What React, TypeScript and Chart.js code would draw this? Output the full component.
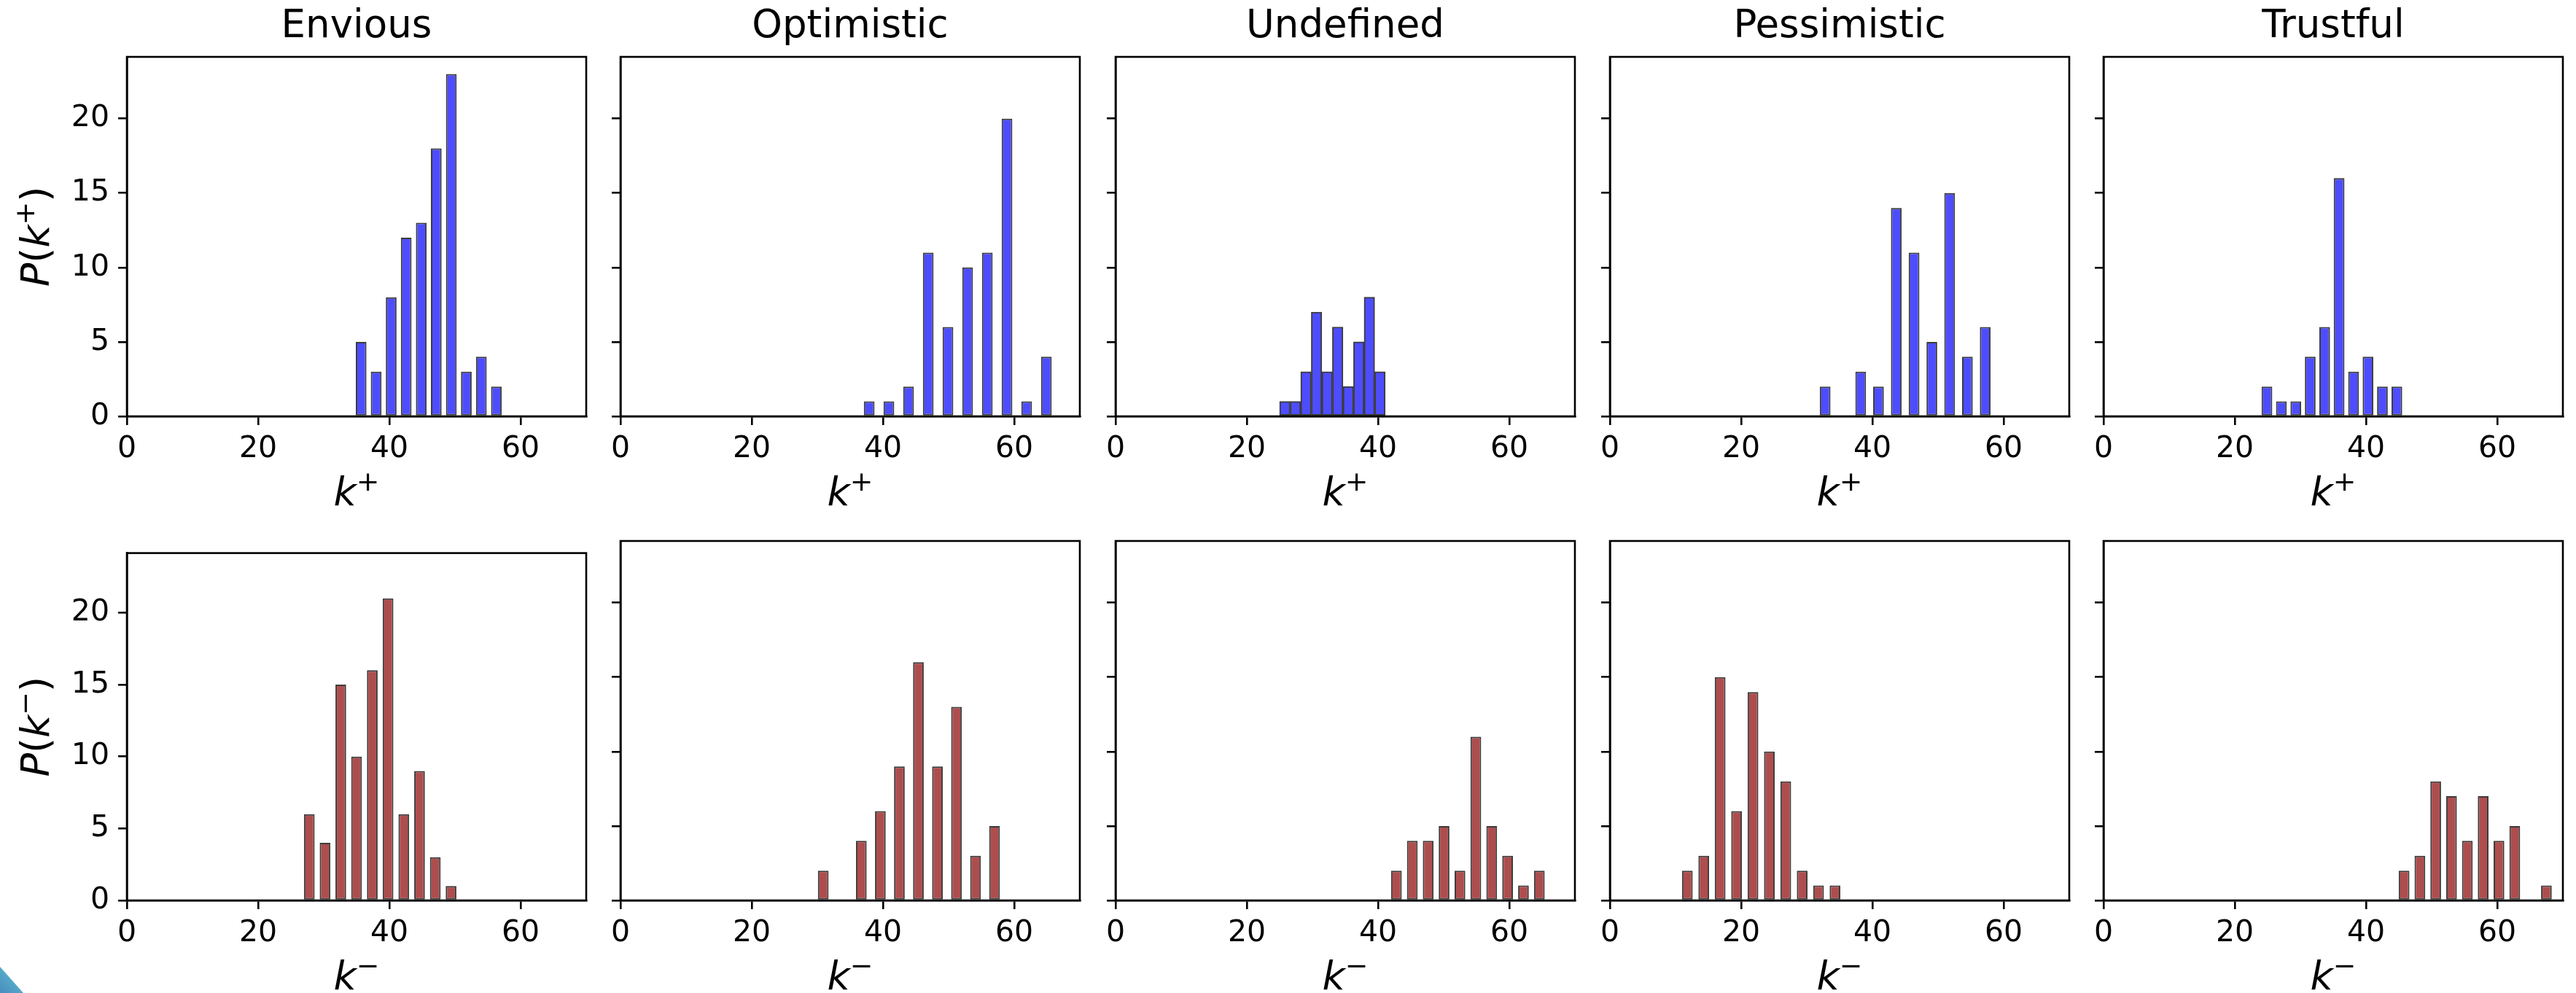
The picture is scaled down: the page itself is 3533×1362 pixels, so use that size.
import React, { useEffect, useRef } from "react";
import { Chart, registerables } from "chart.js";

Chart.register(...registerables);

// ---------- data ----------
const PERSONALITIES = ["Envious", "Optimistic", "Undefined", "Pessimistic", "Trustful"];
const X_TICKS = [0, 20, 40, 60];
const Y_TICKS = [0, 5, 10, 15, 20];
const X_MAX = 70;
const Y_MAX = 24.15;
const BAR_WIDTH = 1.63; // in k units

// out-degree k+ histograms (centre of first bin, bin width, counts)
const K_PLUS_FIRST_BIN = [35.7, 37.9, 25.8, 32.8, 24.9];
const K_PLUS_BIN_WIDTH = [2.29, 3.0, 1.61, 2.71, 2.2];
const ENVIOUS_K_PLUS = [5, 3, 8, 12, 13, 18, 23, 3, 4, 2];
const OPTIMISTIC_K_PLUS = [1, 1, 2, 11, 6, 10, 11, 20, 1, 4];
const UNDEFINED_K_PLUS = [1, 1, 3, 7, 3, 6, 2, 5, 8, 3];
const PESSIMISTIC_K_PLUS = [2, 0, 3, 2, 14, 11, 5, 15, 4, 6];
const TRUSTFUL_K_PLUS = [2, 1, 1, 4, 6, 16, 3, 4, 2, 2];

// in-degree k- histograms
const K_MINUS_FIRST_BIN = [27.8, 30.9, 42.8, 11.8, 45.8];
const K_MINUS_BIN_WIDTH = [2.4, 2.9, 2.42, 2.5, 2.41];
const ENVIOUS_K_MINUS = [6, 4, 15, 10, 16, 21, 6, 9, 3, 1];
const OPTIMISTIC_K_MINUS = [2, 0, 4, 6, 9, 16, 9, 13, 3, 5];
const UNDEFINED_K_MINUS = [2, 4, 4, 5, 2, 11, 5, 3, 1, 2];
const PESSIMISTIC_K_MINUS = [2, 3, 15, 6, 14, 10, 8, 2, 1, 1];
const TRUSTFUL_K_MINUS = [2, 3, 8, 7, 4, 7, 4, 5, 0, 1];

const K_PLUS_COUNTS = [ENVIOUS_K_PLUS, OPTIMISTIC_K_PLUS, UNDEFINED_K_PLUS, PESSIMISTIC_K_PLUS, TRUSTFUL_K_PLUS];
const K_MINUS_COUNTS = [ENVIOUS_K_MINUS, OPTIMISTIC_K_MINUS, UNDEFINED_K_MINUS, PESSIMISTIC_K_MINUS, TRUSTFUL_K_MINUS];

// superscript sign for each row: k+ (top), k− (bottom)
const ROW_SIGN = ["+", "\u2212"];

// ---------- layout / style ----------
const FONT = "'DejaVu Sans', 'Liberation Sans', sans-serif";
const AX_W = 630;
const AX_H = 493;
const COL_LEFT = [174, 851, 1530, 2208, 2885];
const ROW_TOP = [78, 742];
const Y_AXIS_W_FIRST = 174;
const Y_AXIS_W_OTHER = 40;
const X_AXIS_H = 135;
const RIGHT_PAD = 12;
const ROW2_TOP_PAD = 20;
const LINE_W = 2.6;
const FILL = ["#4d4dff", "#ae4d4d"];
const EDGE = "#3c3c3c";
const LABEL_SIZE = 54;
const XLABEL_BASELINE_OFFSET = 122; // below axes bottom
const YLABEL_BASELINE_X = 67; // from canvas left (first column)

type Part = { t: string; it?: boolean; sup?: boolean };

function drawMath(ctx: CanvasRenderingContext2D, parts: Part[], size: number) {
  const fontOf = (p: Part) =>
    `${p.it ? "italic " : ""}${p.sup ? size * 0.7 : size}px ${FONT}`;
  let total = 0;
  const widths = parts.map((p) => {
    ctx.font = fontOf(p);
    const w = ctx.measureText(p.t).width;
    total += w;
    return w;
  });
  let x = -total / 2;
  ctx.fillStyle = "#000";
  ctx.textBaseline = "alphabetic";
  ctx.textAlign = "left";
  parts.forEach((p, i) => {
    ctx.font = fontOf(p);
    ctx.fillText(p.t, x, p.sup ? -size * 0.37 : 0);
    x += widths[i];
  });
}

function Panel({ row, col }: { row: number; col: number }) {
  const ref = useRef<HTMLCanvasElement | null>(null);
  const yW = col === 0 ? Y_AXIS_W_FIRST : Y_AXIS_W_OTHER;
  const left = COL_LEFT[col] - yW;
  const top = row === 0 ? 0 : ROW_TOP[1] - ROW2_TOP_PAD;
  const w = yW + AX_W + RIGHT_PAD;
  const h = (row === 0 ? ROW_TOP[0] : ROW2_TOP_PAD) + AX_H + X_AXIS_H;

  useEffect(() => {
    const counts = row === 0 ? K_PLUS_COUNTS[col] : K_MINUS_COUNTS[col];
    const first = row === 0 ? K_PLUS_FIRST_BIN[col] : K_MINUS_FIRST_BIN[col];
    const binW = row === 0 ? K_PLUS_BIN_WIDTH[col] : K_MINUS_BIN_WIDTH[col];
    const points = counts.map((y, i) => ({ x: first + i * binW, y }));

    const framePlugin = {
      id: "frame",
      afterDraw(chart: any) {
        const { ctx, chartArea } = chart;
        const { left: l, top: t, right: r, bottom: b } = chartArea;
        ctx.save();
        ctx.strokeStyle = "#000";
        ctx.lineWidth = LINE_W;
        ctx.strokeRect(l, t, r - l, b - t);
        ctx.restore();
      },
    };

    const mathLabelPlugin = {
      id: "mathLabels",
      afterDraw(chart: any) {
        const { ctx, chartArea } = chart;
        const sign = ROW_SIGN[row];
        // x label
        ctx.save();
        ctx.translate((chartArea.left + chartArea.right) / 2, chartArea.bottom + XLABEL_BASELINE_OFFSET);
        drawMath(ctx, [{ t: "k", it: true }, { t: sign, sup: true }], LABEL_SIZE);
        ctx.restore();
        // y label (first column only)
        if (col === 0) {
          ctx.save();
          ctx.translate(YLABEL_BASELINE_X, (chartArea.top + chartArea.bottom) / 2);
          ctx.rotate(-Math.PI / 2);
          drawMath(
            ctx,
            [{ t: "P", it: true }, { t: "(" }, { t: "k", it: true }, { t: sign, sup: true }, { t: ")" }],
            LABEL_SIZE
          );
          ctx.restore();
        }
      },
    };

    const chart = new Chart(ref.current as HTMLCanvasElement, {
      type: "bar",
      data: {
        datasets: [
          {
            data: points as any,
            backgroundColor: FILL[row],
            borderColor: EDGE,
            borderWidth: 2,
            borderSkipped: false,
            categoryPercentage: 1,
            barPercentage: Math.min(1, BAR_WIDTH / binW),
          },
        ],
      },
      options: {
        animation: false,
        responsive: false,
        maintainAspectRatio: false,
        devicePixelRatio: 1,
        events: [],
        layout: {
          padding: { top: row === 0 ? 0 : ROW2_TOP_PAD, right: RIGHT_PAD, bottom: 0, left: 0 },
        },
        plugins: {
          legend: { display: false },
          tooltip: { enabled: false },
          title: {
            display: row === 0,
            fullSize: false,
            text: PERSONALITIES[col],
            color: "#000",
            font: { family: FONT, size: 53, weight: "normal" as any, lineHeight: 1.2 },
            padding: { top: 5.9, bottom: 8.5 },
          },
        },
        scales: {
          x: {
            type: "linear",
            min: 0,
            max: X_MAX,
            offset: false,
            afterBuildTicks: (s: any) => {
              s.ticks = X_TICKS.map((v) => ({ value: v }));
            },
            afterFit: (s: any) => {
              s.height = X_AXIS_H;
            },
            ticks: {
              color: "#000",
              font: { family: FONT, size: 41 },
              padding: 9,
              maxRotation: 0,
              autoSkip: false,
            },
            grid: {
              offset: false,
              drawOnChartArea: false,
              drawTicks: true,
              tickLength: 12,
              color: "#000",
              lineWidth: LINE_W,
            },
            border: { display: true, color: "#000", width: LINE_W },
            title: { display: false },
          },
          y: {
            type: "linear",
            min: 0,
            max: Y_MAX,
            afterBuildTicks: (s: any) => {
              s.ticks = Y_TICKS.map((v) => ({ value: v }));
            },
            afterFit: (s: any) => {
              s.width = yW;
            },
            ticks: {
              display: col === 0,
              color: "#000",
              font: { family: FONT, size: 41 },
              padding: 12,
              autoSkip: false,
            },
            grid: {
              drawOnChartArea: false,
              drawTicks: true,
              tickLength: 12,
              color: "#000",
              lineWidth: LINE_W,
            },
            border: { display: true, color: "#000", width: LINE_W },
            title: { display: false },
          },
        },
      } as any,
      plugins: [framePlugin, mathLabelPlugin],
    });
    return () => chart.destroy();
  }, [row, col]);

  return (
    <canvas
      ref={ref}
      width={w}
      height={h}
      style={{ position: "absolute", left, top, width: w, height: h }}
    />
  );
}

export default function App() {
  return (
    <div
      style={{
        position: "fixed",
        left: 0,
        top: 0,
        width: 3533,
        height: 1362,
        overflow: "hidden",
        background: "#fff",
      }}
    >
      {[0, 1].map((r) => PERSONALITIES.map((_, c) => <Panel key={`${r}-${c}`} row={r} col={c} />))}
      <div
        style={{
          position: "absolute",
          left: 0,
          top: 1326,
          width: 32,
          height: 36,
          clipPath: "polygon(0 0, 100% 100%, 0 100%)",
          background: "linear-gradient(45deg, #4a8cbf, #5ec4d2)",
        }}
      />
    </div>
  );
}
